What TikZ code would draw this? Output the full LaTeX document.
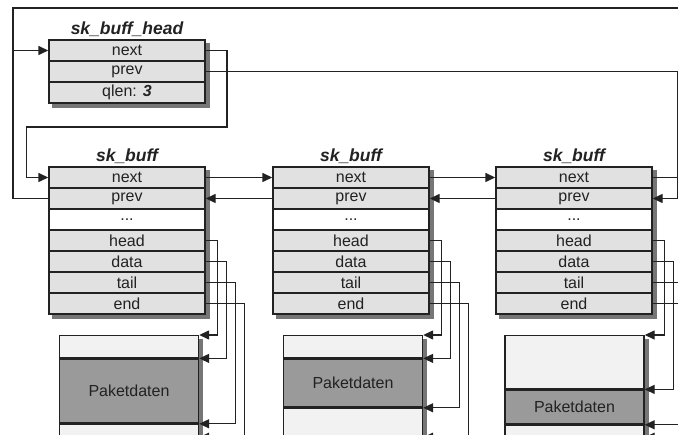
\documentclass[tikz,border=0pt]{standalone}
\usepackage{fontspec}
\setmainfont{Liberation Sans}
\usetikzlibrary{arrows.meta,backgrounds}

\definecolor{rowgrey}{HTML}{E1E1E1}
\definecolor{shadowgrey}{HTML}{767676}
\definecolor{inkgrey}{HTML}{222222}
\definecolor{datagrey}{HTML}{9A9A9A}
\definecolor{roomgrey}{HTML}{F2F2F2}

\tikzset{
  field/.style={draw=inkgrey, line width=1.4pt, fill=rowgrey,
    minimum width=156pt, minimum height=21pt, inner sep=0pt,
    font=\fontsize{16}{18}\selectfont, text=inkgrey},
  blankfield/.style={field, fill=white},
  title/.style={font=\fontsize{17.5}{20}\selectfont\bfseries\itshape,
    anchor=base, text=inkgrey, inner sep=0pt},
  wire/.style={draw=inkgrey, line width=1.4pt},
  ptr/.style={wire, -{Triangle[length=10pt,width=9pt]}},
  room/.style={draw=inkgrey, line width=1.4pt, fill=roomgrey,
    minimum width=139pt, inner sep=0pt, anchor=north},
  payload/.style={room, fill=datagrey,
    font=\fontsize{16}{18}\selectfont, text=inkgrey},
  shade/.style={fill=shadowgrey},
}

\begin{document}
\begin{tikzpicture}[x=1pt, y=-1pt]
  \useasboundingbox (0,0) rectangle (678,435);
  \begin{scope}[on background layer]
    \fill[white] (0,0) rectangle (678,435);
  \end{scope}

  % queue head
  \node[title] at (127,34.5) {sk\_buff\_head};
  \node[field] (h-next) at (127,50.5) {next};
  \node[field] (h-prev) at (127,71.5) {prev};
  \node[field] (h-qlen) at (127,92.5) {qlen: \textbf{\textit{3}}};
  \begin{scope}[on background layer]
    \fill[shade] ([xshift=4pt,yshift=-4pt]h-next.north west)
      rectangle ([xshift=4pt,yshift=-4pt]h-qlen.south east);
  \end{scope}

  % the three socket buffers
  \foreach \n/\cx in {a/127, b/351, c/574} {
    \node[title] at (\cx,162) {sk\_buff};
    \node[field] (\n-next) at (\cx,177.5) {next};
    \node[field] (\n-prev) at (\cx,198.5) {prev};
    \node[blankfield] (\n-dots) at (\cx,219.5) {...};
    \node[field] (\n-head) at (\cx,240.5) {head};
    \node[field] (\n-data) at (\cx,261.5) {data};
    \node[field] (\n-tail) at (\cx,282.5) {tail};
    \node[field] (\n-end)  at (\cx,303.5) {end};
    \begin{scope}[on background layer]
      \fill[shade] ([xshift=4pt,yshift=-4pt]\n-next.north west)
        rectangle ([xshift=4pt,yshift=-4pt]\n-end.south east);
    \end{scope}
  }

  % packet data areas: headroom, payload, tailroom
  \node[room, minimum height=22pt] (pa-head) at (129,335) {};
  \node[payload, minimum height=64pt] (pa-data) at (pa-head.south) {Paketdaten};
  \node[room, minimum height=12pt] (pa-tail) at (pa-data.south) {};

  \node[room, minimum height=22pt] (pb-head) at (353,335) {};
  \node[payload, minimum height=48pt] (pb-data) at (pb-head.south) {Paketdaten};
  \node[room, minimum height=28pt] (pb-tail) at (pb-data.south) {};

  \node[room, minimum height=53pt] (pc-head) at (574.5,335) {};
  \node[payload, minimum height=34pt] (pc-data) at (pc-head.south) {Paketdaten};
  \node[room, minimum height=11pt] (pc-tail) at (pc-data.south) {};

  \begin{scope}[on background layer]
    \foreach \p in {pa, pb, pc} {
      \fill[shade] ([yshift=-4pt]\p-head.north east)
        rectangle ([xshift=4pt,yshift=-4pt]\p-tail.south east);
    }
  \end{scope}

  % list links
  \coordinate (lefttop) at (13,8);
  \draw[ptr] (h-next.east) -| (227,127) -| ([xshift=-22pt]a-next.west) -- (a-next.west);
  \draw[ptr] (h-prev.east) -| ([xshift=25pt]c-prev.east) -- (c-prev.east);
  \draw[wire] (c-next.east) -| (681,8) -- (lefttop) |- (a-prev.west);
  \draw[ptr] (h-next.west -| lefttop) -- (h-next.west);

  \draw[ptr] (a-next.east) -- (b-next.west);
  \draw[ptr] (b-prev.west) -- (a-prev.east);
  \draw[ptr] (b-next.east) -- (c-next.west);
  \draw[ptr] (c-prev.west) -- (b-prev.east);

  % data pointers
  \foreach \n/\p in {a/pa, b/pb, c/pc} {
    \draw[ptr] (\n-head.east) -- ++(12,0) |- (\p-head.north east);
    \draw[ptr] (\n-data.east) -- ++(21,0) |- (\p-data.north east);
    \draw[ptr] (\n-tail.east) -- ++(30,0) |- (\p-data.south east);
    \draw[ptr] (\n-end.east)  -- ++(39,0) |- (\p-tail.south east);
  }
\end{tikzpicture}
\end{document}
